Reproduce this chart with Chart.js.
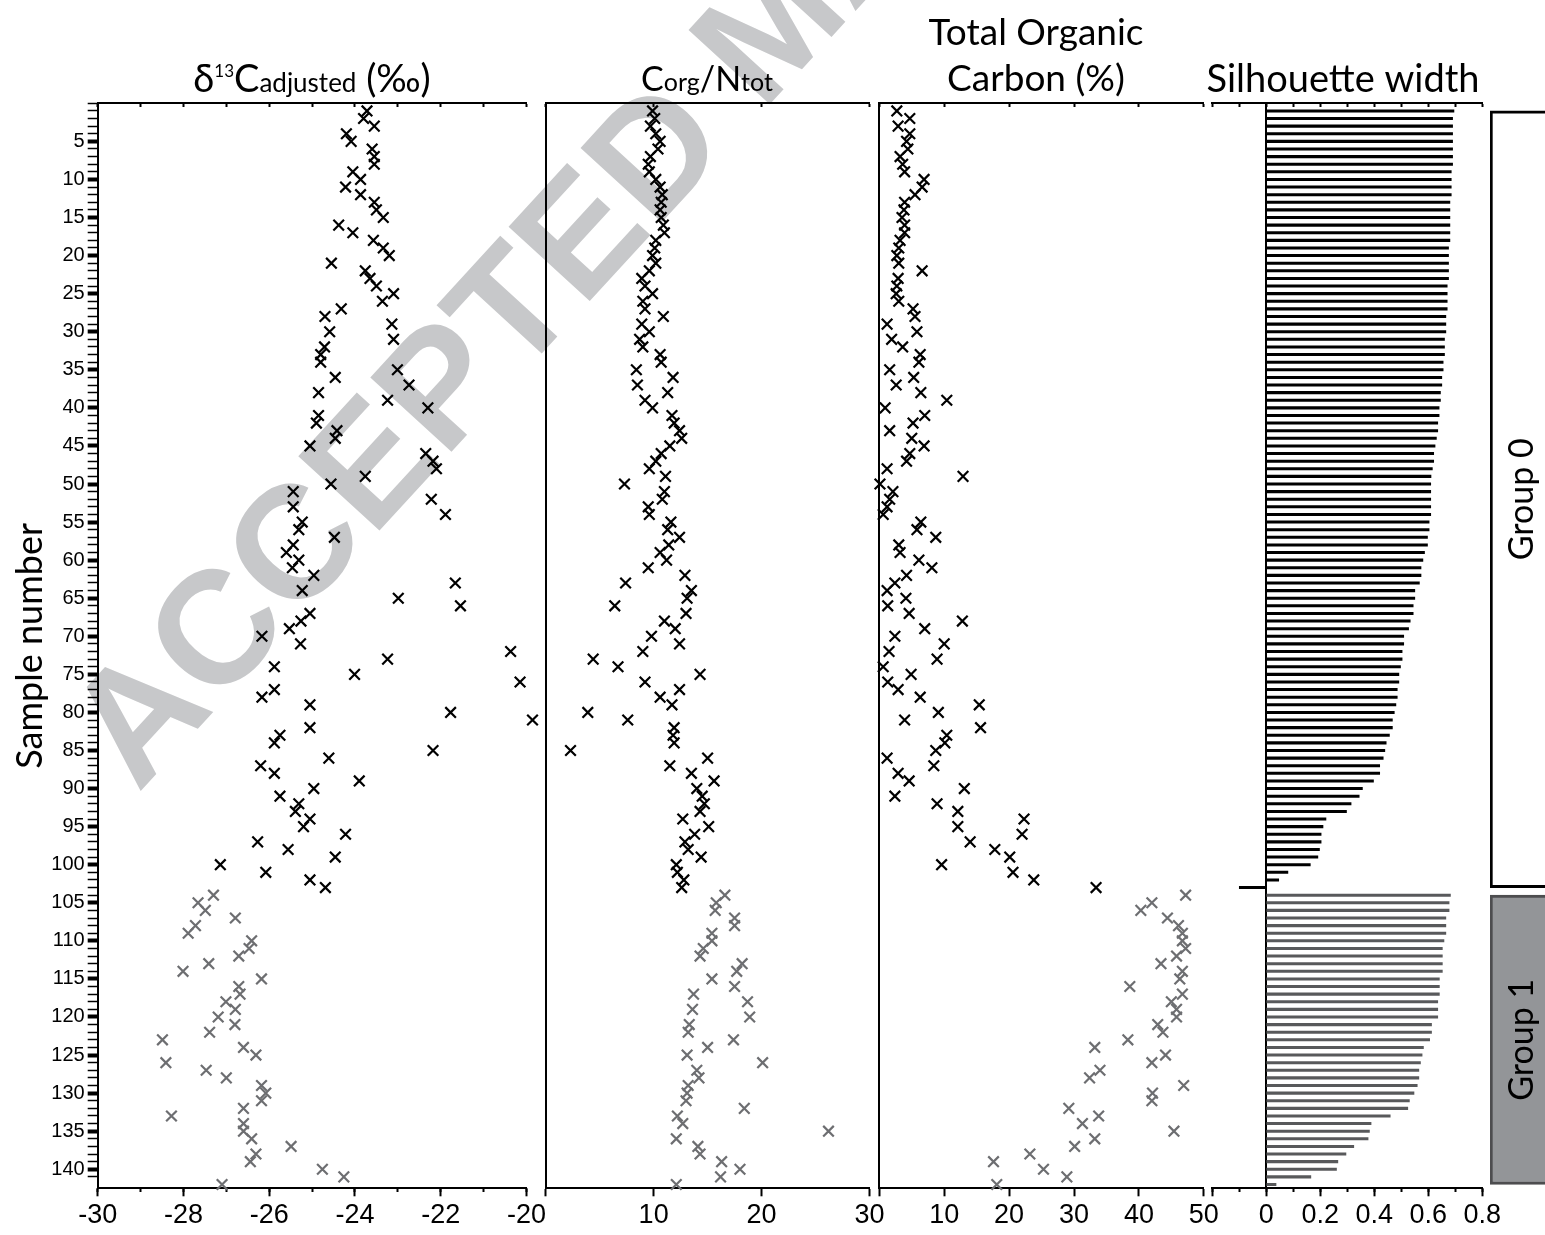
<!DOCTYPE html>
<html>
<head>
<meta charset="utf-8">
<title>Sample profiles</title>
<script src="https://cdn.jsdelivr.net/npm/chart.js@4.4.1/dist/chart.umd.min.js"></script>
<style>
  html, body { margin: 0; padding: 0; background: #fff; overflow: hidden; }
  #wrap { position: relative; width: 1545px; height: 1235px; }
  #wrap canvas { position: absolute; left: 0; top: 0; }
</style>
</head>
<body>
<div id="wrap">
  <canvas id="c13" width="1545" height="1235"></canvas>
  <canvas id="cn" width="1545" height="1235"></canvas>
  <canvas id="toc" width="1545" height="1235"></canvas>
  <canvas id="sil" width="1545" height="1235"></canvas>
  <canvas id="grp" width="1545" height="1235"></canvas>
</div>
<script>
// values, sample 1 at the top, one value per sample
const d13C = [
  -23.72, -23.8, -23.55, -24.2, -24.09, -23.6, -23.55, -23.55, -24.05, -23.87,
  -24.22, -23.87, -23.55, -23.5, -23.34, -24.38, -24.05, -23.57, -23.34, -23.2,
  -24.55, -23.76, -23.65, -23.5, -23.1, -23.36, -24.32, -24.7, -23.14, -24.59,
  -23.1, -24.71, -24.8, -24.8, -23.01, -24.46, -22.74, -24.85, -23.24, -22.3,
  -24.85, -24.9, -24.42, -24.46, -25.05, -22.35, -22.18, -22.1, -23.76, -24.56,
  -25.44, -22.22, -25.44, -21.89, -25.23, -25.31, -24.48, -25.44, -25.6, -25.31,
  -25.46, -24.96, -21.66, -25.23, -22.99, -21.54, -25.05, -25.26, -25.53, -26.17,
  -25.27, -20.37, -23.24, -25.88, -24.01, -20.15, -25.88, -26.17, -25.05, -21.77,
  -19.86, -25.05, -25.75, -25.88, -22.18, -24.61, -26.2, -25.88, -23.9, -24.96,
  -25.75, -25.31, -25.39, -25.05, -25.2, -24.22, -26.27, -25.56, -24.46, -27.14,
  -26.08, -25.05, -24.69,
  -27.3, -27.66, -27.49, -26.79, -27.72, -27.89, -26.41, -26.47, -26.71, -27.41,
  -28.01, -26.18, -26.71, -26.68, -27.01, -26.79, -27.19, -26.8, -27.39, -28.49,
  -26.6, -26.31, -28.41, -27.47, -27.0, -26.18, -26.08, -26.18, -26.6, -28.28,
  -26.6, -26.6, -26.41, -25.49, -26.31, -26.44, -24.76, -24.26, -27.1
];
const cnRatio = [
  9.9, 10.1, 9.7, 10.2, 10.6, 10.4, 9.7, 9.5, 9.6, 10.2,
  10.6, 10.8, 10.7, 10.6, 10.7, 10.9, 11.0, 10.2, 10.1, 9.9,
  10.2, 9.6, 8.9, 9.2, 9.9, 9.0, 9.2, 10.9, 8.9, 9.6,
  8.7, 9.0, 10.6, 10.7, 8.4, 11.8, 8.5, 11.3, 9.2, 9.9,
  11.7, 11.9, 12.4, 12.6, 11.5, 10.7, 10.2, 9.6, 11.1, 7.3,
  11.0, 10.8, 9.5, 9.6, 11.6, 11.3, 12.4, 11.4, 10.6, 11.2,
  9.5, 12.9, 7.4, 13.5, 13.1, 6.4, 13.0, 11.0, 12.0, 9.8,
  12.4, 9.0, 4.4, 6.7, 14.3, 9.2, 12.4, 10.6, 11.7, 3.9,
  7.6, 11.9, 11.8, 11.9, 2.3, 15.0, 11.5, 13.5, 15.6, 14.0,
  14.5, 14.7, 14.3, 12.7, 15.1, 13.8, 12.9, 13.2, 14.4, 12.1,
  12.2, 12.8, 12.6,
  16.6, 15.8, 15.7, 17.5, 17.5, 15.4, 15.4, 14.6, 14.3, 18.2,
  17.7, 15.4, 17.5, 13.7, 18.7, 13.6, 18.9, 13.3, 13.2, 17.4,
  15.0, 13.1, 20.1, 14.0, 14.2, 13.2, 13.1, 13.0, 18.4, 12.2,
  12.7, 26.2, 12.1, 14.1, 14.3, 16.3, 18.0, 16.2, 12.1
];
const toc = [
  2.7, 4.7, 2.9, 4.7, 4.2, 4.4, 3.2, 3.6, 3.9, 6.9,
  6.6, 5.5, 3.9, 3.8, 3.5, 3.9, 3.9, 3.2, 3.0, 2.7,
  3.0, 6.6, 2.9, 2.7, 2.6, 3.0, 5.2, 5.5, 1.2, 5.8,
  1.9, 3.6, 6.3, 6.1, 1.6, 5.3, 2.6, 6.4, 10.4, 0.9,
  7.0, 5.2, 1.6, 5.0, 6.9, 4.7, 4.2, 1.2, 12.9, 0.1,
  2.1, 1.6, 1.2, 0.6, 6.4, 5.8, 8.7, 3.0, 3.2, 6.1,
  8.1, 4.2, 2.4, 1.2, 4.1, 1.3, 4.6, 12.8, 7.0, 2.4,
  10.0, 1.5, 8.9, 0.6, 4.9, 1.3, 2.9, 6.3, 15.4, 9.1,
  3.9, 15.6, 10.4, 10.1, 8.7, 1.2, 8.4, 2.9, 4.6, 13.1,
  2.4, 8.9, 12.1, 22.3, 12.1, 22.0, 14.0, 17.8, 20.1, 9.6,
  20.6, 23.8, 33.4,
  47.2, 42.0, 40.3, 44.4, 46.1, 46.7, 46.7, 47.2, 45.8, 43.4,
  46.7, 46.3, 38.6, 46.7, 45.0, 45.8, 45.8, 42.9, 43.7, 38.3,
  33.2, 44.1, 42.0, 34.0, 32.4, 46.9, 42.1, 42.0, 29.2, 33.8,
  31.3, 45.4, 33.2, 30.1, 23.2, 17.6, 25.3, 28.9, 18.1
];
// silhouette widths, one row per member, sorted within each group
const silGroup0 = [
  0.695, 0.69, 0.69, 0.69, 0.69, 0.69, 0.69, 0.69, 0.685, 0.685,
  0.685, 0.685, 0.68, 0.68, 0.68, 0.68, 0.68, 0.68, 0.675, 0.675,
  0.675, 0.675, 0.675, 0.67, 0.67, 0.67, 0.67, 0.665, 0.665, 0.665,
  0.66, 0.66, 0.66, 0.655, 0.655, 0.65, 0.65, 0.645, 0.645, 0.64,
  0.64, 0.635, 0.635, 0.63, 0.625, 0.62, 0.62, 0.615, 0.61,
  0.609, 0.609, 0.609, 0.609, 0.609, 0.603, 0.603, 0.597, 0.597, 0.586,
  0.58, 0.573, 0.573, 0.567, 0.55, 0.55, 0.544, 0.544, 0.533, 0.527,
  0.509, 0.509, 0.503, 0.503, 0.497, 0.491, 0.491, 0.485, 0.485, 0.48,
  0.474, 0.467, 0.467, 0.456, 0.444, 0.439, 0.433, 0.42, 0.42, 0.397,
  0.356, 0.344, 0.314, 0.297, 0.221, 0.21, 0.203, 0.203, 0.197, 0.191,
  0.163, 0.08, 0.046, -0.1
];
const silGroup1 = [
  0.682, 0.677, 0.677, 0.665, 0.665, 0.665, 0.658, 0.652, 0.652, 0.652,
  0.652, 0.641, 0.641, 0.641, 0.635, 0.635, 0.635, 0.612, 0.612, 0.605,
  0.582, 0.577, 0.571, 0.565, 0.565, 0.559, 0.547, 0.53, 0.524, 0.459,
  0.388, 0.382, 0.377, 0.324, 0.295, 0.265, 0.26, 0.165, 0.036
];
const groupNames = ["Group 0", "Group 1"];
const groupFirst = [1, 104];
const groupLast = [103, 142];

const SAMPLE_MAX = 142.5;
const TOP = 103.3;
const AXIS_H = 46.7;
const W = 1545;
const INK = "#000000";
const GREY = "#6d6e71";
const TICK_FAMILY = '"Liberation Sans", Arial, sans-serif';
const TITLE_FAMILY = 'Lato, "Open Sans", sans-serif';

Chart.defaults.animation = false;
Chart.defaults.color = INK;
Chart.defaults.events = [];
Chart.defaults.plugins.legend.display = false;
Chart.defaults.plugins.tooltip.enabled = false;

const toPoints = (vals, g) =>
  vals
    .map((v, i) => ({ x: v, y: i + 1 }))
    .filter((p) => p.y >= groupFirst[g] && p.y <= groupLast[g]);

const isMajor = (v) => v > 0 && v % 5 === 0;

// titles with sub/superscripts, drawn as runs of text
const titlePlugin = (cx, lines) => ({
  id: "panelTitle",
  afterDraw(chart) {
    const ctx = chart.ctx;
    ctx.save();
    ctx.fillStyle = INK;
    ctx.textAlign = "left";
    ctx.textBaseline = "alphabetic";
    lines.forEach((line) => {
      const widths = line.runs.map((r) => {
        ctx.font = `${r[1]}px ${TITLE_FAMILY}`;
        return ctx.measureText(r[0]).width;
      });
      let x = cx - widths.reduce((a, b) => a + b, 0) / 2;
      line.runs.forEach((r, i) => {
        ctx.font = `${r[1]}px ${TITLE_FAMILY}`;
        ctx.fillText(r[0], x, line.y + (r[2] || 0));
        x += widths[i];
      });
    });
    ctx.restore();
  },
});

const watermark = {
  id: "watermark",
  beforeDraw(chart) {
    const ctx = chart.ctx;
    ctx.save();
    ctx.translate(138, 794);
    ctx.rotate((-47.5 * Math.PI) / 180);
    ctx.font = 'bold 160px "Liberation Sans", Arial, sans-serif';
    ctx.fillStyle = "#c7c8ca";
    ctx.fillText("ACCEPTED MANUSCRIPT", 0, 0);
    ctx.restore();
  },
};

function xScales(o) {
  const s = {
    x: {
      type: "linear",
      min: o.min,
      max: o.max,
      position: "bottom",
      afterFit: (sc) => {
        sc.height = AXIS_H;
      },
      border: { color: INK, width: 2 },
      grid: { drawOnChartArea: false, tickLength: 8, tickWidth: 2, tickColor: INK },
      ticks: {
        stepSize: o.major,
        autoSkip: false,
        maxRotation: 0,
        padding: 3,
        color: INK,
        font: { family: TICK_FAMILY, size: 27 },
        callback: o.label,
      },
    },
    xTop: {
      axis: "x",
      type: "linear",
      min: o.min,
      max: o.max,
      position: { y: 0 },
      border: { color: INK, width: 2 },
      grid: { drawOnChartArea: false, tickLength: 3, tickWidth: 2, tickColor: INK },
      ticks: { display: false, stepSize: o.top, autoSkip: false },
    },
  };
  if (o.minor) {
    s.xMinor = {
      axis: "x",
      type: "linear",
      min: o.min,
      max: o.max,
      position: { y: SAMPLE_MAX },
      border: { display: false },
      grid: { drawOnChartArea: false, tickLength: 4, tickWidth: 2, tickColor: INK },
      ticks: { display: false, stepSize: o.minor, autoSkip: false },
    };
  }
  return s;
}

const yPlain = (at) => ({
  axis: "y",
  type: "linear",
  reverse: true,
  min: 0,
  max: SAMPLE_MAX,
  offset: false,
  position: { x: at },
  border: { color: INK, width: 2 },
  grid: { drawOnChartArea: false, drawTicks: false, offset: false },
  ticks: { display: false },
});

const pointSet = (vals, g) => ({
  data: toPoints(vals, g),
  pointStyle: "crossRot",
  pointRadius: 7.5,
  borderWidth: 2.2,
  borderColor: g === 0 ? INK : GREY,
  backgroundColor: g === 0 ? INK : GREY,
  clip: false,
});

const pad = (left, right) => ({ left: left, right: W - right, top: TOP, bottom: 0 });

// panel 1: d13C with the sample axis
new Chart(document.getElementById("c13"), {
  type: "scatter",
  data: { datasets: [pointSet(d13C, 0), pointSet(d13C, 1)] },
  options: {
    responsive: false,
    layout: { padding: pad(0, 526.5) },
    scales: {
      ...xScales({ min: -30, max: -20, major: 2, minor: 1, top: 1, label: (v) => v }),
      y: {
        type: "linear",
        reverse: true,
        min: 0,
        max: SAMPLE_MAX,
        position: "left",
        afterFit: (sc) => {
          sc.width = 97.7;
        },
        afterBuildTicks: (sc) => {
          sc.ticks = sc.ticks.filter((t) => Number.isInteger(t.value));
        },
        border: { color: INK, width: 2 },
        grid: {
          drawOnChartArea: false,
          tickLength: 10,
          tickColor: INK,
          tickWidth: (c) => (c.tick && isMajor(c.tick.value) ? 4 : 1.5),
        },
        ticks: {
          stepSize: 1,
          autoSkip: false,
          padding: 3,
          color: INK,
          font: { family: TICK_FAMILY, size: 20 },
          callback: (v) => (isMajor(v) ? v : ""),
        },
        title: {
          display: true,
          text: "Sample number",
          color: INK,
          font: { family: TITLE_FAMILY, size: 36 },
          padding: { top: 9, bottom: 0 },
        },
      },
    },
  },
  plugins: [
    watermark,
    titlePlugin(312, [
      { y: 92, runs: [["δ", 38], ["13", 17, -15], ["C", 38], ["adjusted", 26], [" (‰)", 38]] },
    ]),
  ],
});

// panel 2: Corg/Ntot
new Chart(document.getElementById("cn"), {
  type: "scatter",
  data: { datasets: [pointSet(cnRatio, 0), pointSet(cnRatio, 1)] },
  options: {
    responsive: false,
    layout: { padding: pad(545.7, 869.5) },
    scales: {
      ...xScales({ min: 0, max: 30, major: 10, top: 10, label: (v) => (v === 0 ? "" : v) }),
      y: yPlain(0),
    },
  },
  plugins: [
    titlePlugin(707, [
      { y: 91, runs: [["C", 34], ["org", 25], ["/", 34], ["N", 34], ["tot", 25]] },
    ]),
  ],
});

// panel 3: total organic carbon
new Chart(document.getElementById("toc"), {
  type: "scatter",
  data: { datasets: [pointSet(toc, 0), pointSet(toc, 1)] },
  options: {
    responsive: false,
    layout: { padding: pad(879.3, 1203.8) },
    scales: {
      ...xScales({ min: 0, max: 50, major: 10, top: 10, label: (v) => (v === 0 ? "" : v) }),
      y: yPlain(0),
    },
  },
  plugins: [
    titlePlugin(1036, [
      { y: 45, runs: [["Total Organic", 37]] },
      { y: 91, runs: [["Carbon (%)", 37]] },
    ]),
  ],
});

// panel 4: silhouette widths as thin horizontal bars
const silBars = (vals, g) => ({
  data: vals.map((v, i) => ({ x: v, y: groupFirst[g] + i })),
  backgroundColor: g === 0 ? INK : "#58595b",
  barThickness: 2.4,
  maxBarThickness: 2.4,
  grouped: false,
});

new Chart(document.getElementById("sil"), {
  type: "bar",
  data: { datasets: [silBars(silGroup0, 0), silBars(silGroup1, 1)] },
  options: {
    responsive: false,
    indexAxis: "y",
    layout: { padding: pad(1212.3, 1482.3) },
    scales: {
      ...xScales({
        min: -0.2,
        max: 0.8,
        major: 0.2,
        minor: 0.1,
        top: 0.1,
        label: (v) => (v < -0.01 ? "" : Math.abs(v) < 1e-9 ? "0" : v.toFixed(1)),
      }),
      y: yPlain(0),
    },
  },
  plugins: [titlePlugin(1343, [{ y: 92, runs: [["Silhouette width", 38]] }])],
});

// cluster membership boxes
const groupLabels = {
  id: "groupLabels",
  afterDatasetsDraw(chart) {
    const ctx = chart.ctx;
    ctx.save();
    ctx.fillStyle = INK;
    ctx.font = `34px ${TITLE_FAMILY}`;
    ctx.textAlign = "center";
    ctx.textBaseline = "middle";
    groupNames.forEach((name, g) => {
      const el = chart.getDatasetMeta(g).data[0];
      ctx.save();
      ctx.translate(chart.chartArea.left + 32, (el.y + el.base) / 2);
      ctx.rotate(-Math.PI / 2);
      ctx.fillText(name, 0, 0);
      ctx.restore();
    });
    ctx.restore();
  },
};

new Chart(document.getElementById("grp"), {
  type: "bar",
  data: {
    labels: [""],
    datasets: groupNames.map((name, g) => ({
      label: name,
      data: [[groupFirst[g], groupLast[g]]],
      backgroundColor: g === 0 ? "#ffffff" : "#939598",
      borderColor: g === 0 ? INK : "#4d4d4f",
      borderWidth: 3,
      borderSkipped: "right",
      barPercentage: 1,
      categoryPercentage: 1,
      grouped: false,
    })),
  },
  options: {
    responsive: false,
    layout: { padding: { left: 1490, right: 0, top: TOP, bottom: AXIS_H } },
    scales: {
      x: { display: false },
      y: { display: false, type: "linear", reverse: true, min: 0, max: SAMPLE_MAX },
    },
  },
  plugins: [groupLabels],
});
</script>
</body>
</html>
